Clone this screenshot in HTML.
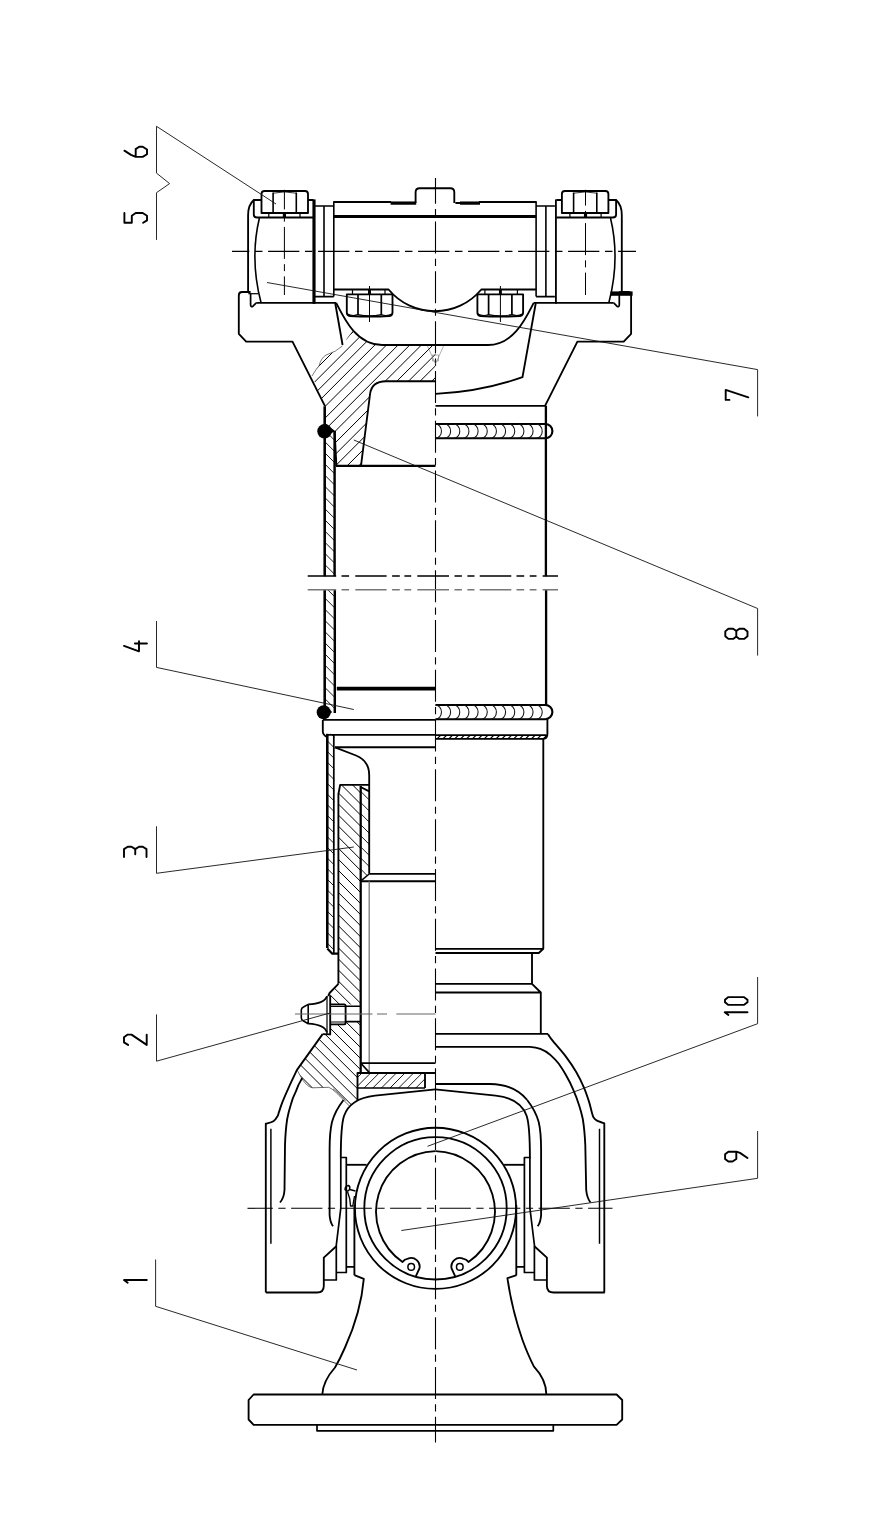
<!DOCTYPE html>
<html><head><meta charset="utf-8"><title>Propeller shaft</title>
<style>
html,body{margin:0;padding:0;background:#fff;}
body{width:879px;height:1540px;overflow:hidden;font-family:"Liberation Sans",sans-serif;}
svg{display:block}
.k{fill:none;stroke:#000;stroke-width:1.85;stroke-linejoin:round;stroke-linecap:butt}
.t{fill:none;stroke:#000;stroke-width:0.7;stroke-linecap:butt}
.d{fill:none;stroke:#000;stroke-width:1.9;stroke-linejoin:round;stroke-linecap:round}
</style></head><body>
<svg width="879" height="1540" viewBox="0 0 879 1540">
<rect width="879" height="1540" fill="#fff"/>
<defs>
<clipPath id="hy"><path d="M342.4,346 L346.5,339.5 L353.3,330.5 C359,339 368,345 382,345 L435.5,345 L435.5,381.2 L386,381.2 Q371.5,381.2 370,394.4 L361,465.8 L336.4,465.8 L334.6,431 L325,431 L325,406.2 L312,376 Q316,369 319,366 Q321,358 326,355 Q336,352 342.4,346 Z"/></clipPath>
<clipPath id="hw1"><path d="M325,424 L334.5,431 L334.5,576.2 L325,576.2 Z M325,589.5 L334.5,589.5 L334.5,712 L325,712 Z"/></clipPath>
<clipPath id="hs1"><path d="M435.5,735.1 L547,735.1 L546,738.8 L435.5,738.8 Z"/></clipPath>
<clipPath id="hd1"><path d="M327.4,733.8 L334.4,733.8 L334.4,951 L327.4,948 Z"/></clipPath>
<clipPath id="hp1"><path d="M357.5,1073 L425,1073 L425,1088 L357.5,1088 Z"/></clipPath>
<clipPath id="hs3"><path d="M340.2,784.8 L360.6,784.8 L360.6,1004.4 L330.2,1004.4 L330.2,995.6 L329.6,993 L338.4,983.8 L338.4,794 Z M330.2,1024.4 L345.6,1024.4 L345.6,1021.6 L360.6,1021.6 L360.6,1073 L357.5,1073 L357.5,1100 L350,1106.5 L344,1100.6 Q340,1096 335.9,1092.4 Q332,1088.5 328.7,1087.3 L312.3,1087.8 Q309,1087 306.2,1084.2 Q303,1081 301,1077 L297,1069.9 L322.6,1034.1 L330.2,1034.4 Z"/></clipPath>
<clipPath id="hs4"><path d="M360.6,787 L369.2,791.4 L369.2,874 L361.2,880.6 L360.6,880.6 Z"/></clipPath>
</defs>
<path d="M261.5,213 L261.5,194 Q261.5,191 264.5,191 L305,191 Q308,191 308,194 L308,213 Z" class="k" />
<path d="M273.1,192.5 L273.1,213 M296.3,192.5 L296.3,213" class="k" style="stroke-width:1.59" />
<path d="M273.1,193.2 Q284.5,190.6 296.3,193.2" class="t" style="stroke-width:0.8;stroke:#000" />
<path d="M261.5,200 L253.8,200 L253.8,214.5 Q253.8,217.5 257,217.5 L313.5,217.5 M308,200 L313.5,200" class="k" />
<path d="M268.8,213 L268.8,217.5 M300,213 L300,217.5" class="k" style="stroke-width:1.22" />
<path d="M284.4,213 L284.4,217.5" class="k" style="stroke-width:3.17" />
<path d="M253.8,200 Q248.1,205 248.1,215 L248.1,292" class="k" />
<path d="M250.6,293.7 L250.6,305 Q250.8,307.4 253,306.2 L256.2,302.9" class="k" style="stroke-width:1.71" />
<path d="M259.4,218 Q249.6,259 261,302.5" class="k" style="stroke-width:1.59" />
<path d="M314,199.4 L314,303.8" class="k" style="stroke-width:3.17" />
<path d="M256.2,302.9 L336.2,302.9" class="k" />
<path d="M324,206 L324,296.6 M333.8,201.2 L333.8,296.6" class="k" style="stroke-width:1.59" />
<path d="M315,206 L333.8,206 M315,296.6 L333.8,296.6" class="k" style="stroke-width:1.59" />
<path d="M284.4,189.8 L284.4,295" class="t" style="stroke-width:1.0;stroke:#000" stroke-dasharray="32 5.25 7 5.25" stroke-dashoffset="12.4"/>
<path d="M250.6,292 L242,292 Q238.8,292 238.8,295.5 L238.8,333.8 L246.2,341.6 L292.5,341.6 L325,406.2" class="k" />
<path d="M346.8,294.3 L346.8,312.5 Q346.8,315.5 350,316 Q369.5,317.2 389.5,316 Q392.5,315.5 392.5,312.5 L392.5,294.3 Z" class="k" />
<path d="M358,294.3 L358,315 M381.3,294.3 L381.3,315" class="k" style="stroke-width:1.71" />
<path d="M347.5,314 Q352.5,316.6 358,314.6 Q369.5,317 381.3,314.6 Q387,316.6 392,314" class="k" style="stroke-width:1.10" />
<path d="M352.5,289.5 L352.5,294.3 M385,289.5 L385,294.3" class="k" style="stroke-width:1.22" />
<path d="M369.5,289.5 L369.5,294.3" class="k" style="stroke-width:2.93" />
<path d="M369.5,286 L369.5,322" class="t" style="stroke-width:1.0;stroke:#000" />
<path d="M333.8,289.5 L388.6,289.5 A60,60 0 0 0 435.5,311.2" class="k" />
<path d="M336.2,302.9 C344,318 356,345 382,345 L435.5,345" class="k" />
<path d="M333.8,202 L391,202 M415.6,203 L415.6,192.2 Q415.6,188.2 419.6,188.2 L435.5,188.2" class="k" />
<path d="M333.8,216.5 L435.5,216.5" class="k" style="stroke-width:3.17" />
<g transform="translate(869.9,0) scale(-1,1)">
<path d="M261.5,213 L261.5,194 Q261.5,191 264.5,191 L305,191 Q308,191 308,194 L308,213 Z" class="k" />
<path d="M273.1,192.5 L273.1,213 M296.3,192.5 L296.3,213" class="k" style="stroke-width:1.59" />
<path d="M273.1,193.2 Q284.5,190.6 296.3,193.2" class="t" style="stroke-width:0.8;stroke:#000" />
<path d="M261.5,200 L253.8,200 L253.8,214.5 Q253.8,217.5 257,217.5 L313.5,217.5 M308,200 L313.5,200" class="k" />
<path d="M268.8,213 L268.8,217.5 M300,213 L300,217.5" class="k" style="stroke-width:1.22" />
<path d="M284.4,213 L284.4,217.5" class="k" style="stroke-width:3.17" />
<path d="M253.8,200 Q248.1,205 248.1,215 L248.1,292" class="k" />
<path d="M250.6,293.7 L250.6,305 Q250.8,307.4 253,306.2 L256.2,302.9" class="k" style="stroke-width:1.71" />
<path d="M259.4,218 Q249.6,259 261,302.5" class="k" style="stroke-width:1.59" />
<path d="M314,199.4 L314,303.8" class="k" />
<path d="M256.2,302.9 L336.2,302.9" class="k" />
<path d="M324,206 L324,296.6 M333.8,201.2 L333.8,296.6" class="k" style="stroke-width:1.59" />
<path d="M315,206 L333.8,206 M315,296.6 L333.8,296.6" class="k" style="stroke-width:1.59" />
<path d="M284.4,189.8 L284.4,295" class="t" style="stroke-width:1.0;stroke:#000" stroke-dasharray="32 5.25 7 5.25" stroke-dashoffset="16.2"/>
<path d="M250.6,292 L242,292 Q238.8,292 238.8,295.5 L238.8,333.8 L246.2,341.6 L292.5,341.6 L325,406.2" class="k" />
<path d="M346.8,294.3 L346.8,312.5 Q346.8,315.5 350,316 Q369.5,317.2 389.5,316 Q392.5,315.5 392.5,312.5 L392.5,294.3 Z" class="k" />
<path d="M358,294.3 L358,315 M381.3,294.3 L381.3,315" class="k" style="stroke-width:1.71" />
<path d="M347.5,314 Q352.5,316.6 358,314.6 Q369.5,317 381.3,314.6 Q387,316.6 392,314" class="k" style="stroke-width:1.10" />
<path d="M352.5,289.5 L352.5,294.3 M385,289.5 L385,294.3" class="k" style="stroke-width:1.22" />
<path d="M369.5,289.5 L369.5,294.3" class="k" style="stroke-width:2.93" />
<path d="M369.5,286 L369.5,322" class="t" style="stroke-width:1.0;stroke:#000" />
<path d="M333.8,289.5 L388.6,289.5 A60,60 0 0 0 435.5,311.2" class="k" />
<path d="M336.2,302.9 C344,318 356,345 382,345 L435.5,345" class="k" />
<path d="M333.8,202 L391,202 M415.6,203 L415.6,192.2 Q415.6,188.2 419.6,188.2 L435.5,188.2" class="k" />
<path d="M333.8,216.5 L435.5,216.5" class="k" style="stroke-width:3.17" />
</g>
<path d="M390.6,203.1 L416.2,203.1" class="k" style="stroke-width:3.29" />
<path d="M455.4,203 L460,203 M460,203.1 L480,203.1" class="k" />
<path d="M460,203.1 L480,203.1" class="k" style="stroke-width:3.29" />
<path d="M610.5,293.6 L632.6,293.6" class="k" style="stroke-width:4.39" />
<path d="M248.3,293.7 L258.4,293.7" class="k" style="stroke-width:1.22" />
<path d="M335.2,303 L342.6,345" class="k" />
<path d="M535.8,303 L522.5,377.2 Q480,392 435.5,393.8" class="k" />
<path d="M545.9,405.8 L545.9,576.2 M546.1,589.5 L546.1,705" class="k" style="stroke-width:2.32" />
<path d="M435.5,405.8 L546,405.8" class="k" />
<path d="M232,251.3 L636,251.3" class="t" style="stroke-width:1.2;stroke:#000" stroke-dasharray="31.25 5.6 7.5 5.65" stroke-dashoffset="13.9"/>
<path d="M435.5,178.1 L435.5,1442.5" class="t" style="stroke-width:1.1;stroke:#000" stroke-dasharray="32 5.3 7.2 5.3" stroke-dashoffset="6.35"/>
<path d="M121.97,470.00L291.97,300.00M133.60,470.00L303.60,300.00M145.23,470.00L315.23,300.00M156.86,470.00L326.86,300.00M168.49,470.00L338.49,300.00M180.12,470.00L350.12,300.00M191.75,470.00L361.75,300.00M203.38,470.00L373.38,300.00M215.01,470.00L385.01,300.00M226.64,470.00L396.64,300.00M238.27,470.00L408.27,300.00M249.90,470.00L419.90,300.00M261.53,470.00L431.53,300.00M273.16,470.00L443.16,300.00M284.79,470.00L454.79,300.00M296.42,470.00L466.42,300.00M308.05,470.00L478.05,300.00M319.68,470.00L489.68,300.00M331.31,470.00L501.31,300.00M342.94,470.00L512.94,300.00M354.57,470.00L524.57,300.00M366.20,470.00L536.20,300.00M377.83,470.00L547.83,300.00M389.46,470.00L559.46,300.00M401.09,470.00L571.09,300.00M412.72,470.00L582.72,300.00M424.35,470.00L594.35,300.00M435.98,470.00L605.98,300.00M447.61,470.00L617.61,300.00" class="t" style="stroke-width:1.0;stroke:#000" clip-path="url(#hy)"/>
<path d="M342.4,346 Q336,352 326,355 Q321,358 319,366 Q316,369 312,376 M353.3,330.5 L346.5,339.5" class="t" style="stroke-width:0.7;stroke:#444" />
<path d="M435.5,381.2 L386,381.2 Q371.5,381.2 370,394.4 L361,465.8" class="k" />
<path d="M336,465.9 L435.5,465.9" class="k" style="stroke-width:2.07" />
<path d="M334.6,431 L336.4,465.9" class="k" />
<path d="M427.5,346 L435.5,364 L443.5,346 M432.5,355 L432.5,361 L438.5,361 L438.5,355 Z" class="t" style="stroke-width:0.6;stroke:#777" />
<path d="M324.7,406.2 L324.7,576.2 M324.7,589.5 L324.7,712" class="k" style="stroke-width:2.56" />
<path d="M334.6,431 L334.6,576.2 M334.8,589.5 L334.8,713" class="k" style="stroke-width:2.44" />
<path d="M326,424.5 L334.6,431.5" class="k" style="stroke-width:1.22" />
<path d="M26.90,423.00L316.90,713.00M38.07,423.00L328.07,713.00M49.24,423.00L339.24,713.00M60.41,423.00L350.41,713.00M71.58,423.00L361.58,713.00M82.75,423.00L372.75,713.00M93.92,423.00L383.92,713.00M105.09,423.00L395.09,713.00M116.26,423.00L406.26,713.00M127.43,423.00L417.43,713.00M138.60,423.00L428.60,713.00M149.77,423.00L439.77,713.00M160.94,423.00L450.94,713.00M172.11,423.00L462.11,713.00M183.28,423.00L473.28,713.00M194.45,423.00L484.45,713.00M205.62,423.00L495.62,713.00M216.79,423.00L506.79,713.00M227.96,423.00L517.96,713.00M239.13,423.00L529.13,713.00M250.30,423.00L540.30,713.00M261.47,423.00L551.47,713.00M272.64,423.00L562.64,713.00M283.81,423.00L573.81,713.00M294.98,423.00L584.98,713.00M306.15,423.00L596.15,713.00M317.32,423.00L607.32,713.00M328.49,423.00L618.49,713.00M339.66,423.00L629.66,713.00" class="t" style="stroke-width:0.9;stroke:#000" clip-path="url(#hw1)"/>
<circle cx="324.5" cy="431.3" r="7.2" fill="#000"/>
<circle cx="323.7" cy="712.3" r="7.0" fill="#000"/>
<path d="M325,424.3 L334.2,431.2 L325,438.3 Z" fill="#000"/>
<path d="M324,705.3 L332.2,712 L324,719.3 Z" fill="#000"/>
<path d="M435.5,424 L545.25,424 A7.150000000000006,7.150000000000006 0 0 1 545.25,438.3 L435.5,438.3" class="k" style="stroke-width:2.13" />
<path d="M435.46,424 A6.0,7.15 0 0 1 435.46,438.3M444.62,424 A6.0,7.15 0 0 1 444.62,438.3M453.78,424 A6.0,7.15 0 0 1 453.78,438.3M462.94,424 A6.0,7.15 0 0 1 462.94,438.3M472.10,424 A6.0,7.15 0 0 1 472.10,438.3M481.26,424 A6.0,7.15 0 0 1 481.26,438.3M490.42,424 A6.0,7.15 0 0 1 490.42,438.3M499.58,424 A6.0,7.15 0 0 1 499.58,438.3M508.74,424 A6.0,7.15 0 0 1 508.74,438.3M517.90,424 A6.0,7.15 0 0 1 517.90,438.3M527.06,424 A6.0,7.15 0 0 1 527.06,438.3M536.22,424 A6.0,7.15 0 0 1 536.22,438.3" class="t" style="stroke-width:1.05;stroke:#111" />
<path d="M435.5,705 L545.30,705 A7.100000000000023,7.100000000000023 0 0 1 545.30,719.2 L435.5,719.2" class="k" style="stroke-width:2.13" />
<path d="M435.46,705 A6.0,7.10 0 0 1 435.46,719.2M444.62,705 A6.0,7.10 0 0 1 444.62,719.2M453.78,705 A6.0,7.10 0 0 1 453.78,719.2M462.94,705 A6.0,7.10 0 0 1 462.94,719.2M472.10,705 A6.0,7.10 0 0 1 472.10,719.2M481.26,705 A6.0,7.10 0 0 1 481.26,719.2M490.42,705 A6.0,7.10 0 0 1 490.42,719.2M499.58,705 A6.0,7.10 0 0 1 499.58,719.2M508.74,705 A6.0,7.10 0 0 1 508.74,719.2M517.90,705 A6.0,7.10 0 0 1 517.90,719.2M527.06,705 A6.0,7.10 0 0 1 527.06,719.2M536.22,705 A6.0,7.10 0 0 1 536.22,719.2" class="t" style="stroke-width:1.05;stroke:#111" />
<path d="M307.7,576 L336.2,576M341.5,576 L349.1,576M355.3,576 L386.6,576M392.1,576 L399.8,576M404.4,576 L411.2,576M417.3,576 L449,576M454.5,576 L461.9,576M467.4,576 L474.5,576M479.7,576 L511.3,576M516.5,576 L524.2,576M529.7,576 L536.5,576M542.6,576 L558,576" class="t" style="stroke-width:1.5;stroke:#000" />
<path d="M307.7,589.8 L336.2,589.8M341.5,589.8 L349.1,589.8M355.3,589.8 L386.6,589.8M392.1,589.8 L399.8,589.8M404.4,589.8 L411.2,589.8M417.3,589.8 L449,589.8M454.5,589.8 L461.9,589.8M467.4,589.8 L474.5,589.8M479.7,589.8 L511.3,589.8M516.5,589.8 L524.2,589.8M529.7,589.8 L536.5,589.8M542.6,589.8 L558,589.8" class="t" style="stroke-width:1.4;stroke:#777" />
<path d="M336.8,688.7 L435.5,688.7" class="k" style="stroke-width:3.66" />
<path d="M322.8,719.9 L435.5,719.9" class="k" />
<path d="M322.8,719.9 L322.8,731.5 Q323,735 326.8,736.8 M327,734.8 L435.5,734.8" class="k" />
<path d="M335,747.2 L435.5,747.2" class="k" />
<path d="M547.4,719.2 L547.4,733.8 Q547.4,738.8 543.5,738.8 L435.5,738.8" class="k" />
<path d="M435.5,735.1 L546.5,735.1" class="k" />
<path d="M431.00,739.00L435.00,735.00M436.90,739.00L440.90,735.00M442.80,739.00L446.80,735.00M448.70,739.00L452.70,735.00M454.60,739.00L458.60,735.00M460.50,739.00L464.50,735.00M466.40,739.00L470.40,735.00M472.30,739.00L476.30,735.00M478.20,739.00L482.20,735.00M484.10,739.00L488.10,735.00M490.00,739.00L494.00,735.00M495.90,739.00L499.90,735.00M501.80,739.00L505.80,735.00M507.70,739.00L511.70,735.00M513.60,739.00L517.60,735.00M519.50,739.00L523.50,735.00M525.40,739.00L529.40,735.00M531.30,739.00L535.30,735.00M537.20,739.00L541.20,735.00M543.10,739.00L547.10,735.00M549.00,739.00L553.00,735.00" class="t" style="stroke-width:1.1;stroke:#000" clip-path="url(#hs1)"/>
<path d="M543.3,738.9 L543.3,948.8 M435.5,948.8 L543.3,948.8 L538.8,953 L435.5,953" class="k" />
<path d="M532,953 L532,983.8 M435.5,983.8 L532,983.8 L540.8,992.5 L435.5,992.5 M540.8,992.5 L540.8,1033.8" class="k" />
<path d="M435.5,1033.8 L548,1033.8" class="k" />
<path d="M327.3,733.8 L327.3,948" class="k" style="stroke-width:2.56" />
<path d="M327.3,948.5 L332.3,953.7 L339,953.7" class="k" style="stroke-width:2.20" />
<path d="M333.8,734.8 L333.8,953.6" class="k" style="stroke-width:1.71" />
<path d="M95.80,733.00L315.80,953.00M106.45,733.00L326.45,953.00M117.10,733.00L337.10,953.00M127.75,733.00L347.75,953.00M138.40,733.00L358.40,953.00M149.05,733.00L369.05,953.00M159.70,733.00L379.70,953.00M170.35,733.00L390.35,953.00M181.00,733.00L401.00,953.00M191.65,733.00L411.65,953.00M202.30,733.00L422.30,953.00M212.95,733.00L432.95,953.00M223.60,733.00L443.60,953.00M234.25,733.00L454.25,953.00M244.90,733.00L464.90,953.00M255.55,733.00L475.55,953.00M266.20,733.00L486.20,953.00M276.85,733.00L496.85,953.00M287.50,733.00L507.50,953.00M298.15,733.00L518.15,953.00M308.80,733.00L528.80,953.00M319.45,733.00L539.45,953.00M330.10,733.00L550.10,953.00M340.75,733.00L560.75,953.00" class="t" style="stroke-width:0.9;stroke:#000" clip-path="url(#hd1)"/>
<path d="M335,747.3 L356,755.5 Q369.2,761 369.2,775 L369.2,873.8" class="k" />
<path d="M338.4,983.8 L338.4,794 L340.2,784.8 L369.2,784.8" class="k" />
<path d="M360.7,786 L360.7,1072.6" class="k" style="stroke-width:2.26" />
<path d="M360.6,787 L369.2,791.4" class="k" />
<path d="M369.5,873.8 L361.2,880.6" class="k" style="stroke-width:1.46" />
<path d="M369.5,873.8 L435.5,873.8 M361.2,881.2 L435.5,881.2" class="k" />
<path d="M369.2,881.2 L369.2,1072" class="t" style="stroke-width:1.3;stroke:#777" />
<path d="M338.4,983.8 L329.6,993 L328.2,996 M330.2,995.6 L330.2,1034.4 L322.6,1034.1" class="k" />
<path d="M327,996 L327,1034" class="k" style="stroke-width:1.22" />
<path d="M327,996.2 Q324.5,1003.5 308.2,1004.4 M327,1032.5 Q324.5,1024.5 308.2,1023.7" class="k" />
<path d="M308.2,1004.4 L303.5,1007 Q301.3,1008 301.3,1010 L301.3,1018 Q301.3,1020 303.5,1021 L308.2,1023.7 M308.2,1004.4 L308.2,1023.7" class="k" style="stroke-width:1.59" />
<path d="M330.2,1004.4 L344,1004.4 Q345.6,1004.4 345.6,1006 L345.6,1022.8 Q345.6,1024.4 344,1024.4 L330.2,1024.4" class="k" />
<path d="M330.2,1006.4 L345.6,1006.4 M330.2,1022 L345.6,1022" class="k" style="stroke-width:1.22" />
<path d="M345.6,1006.3 L360.6,1006.3 M345.6,1021.6 L360.6,1021.6" class="k" style="stroke-width:1.59" />
<path d="M295,1014 L372.5,1014 M377,1014 L387,1014 M396.3,1014 L435.5,1014" class="t" style="stroke-width:1.1;stroke:#666" />
<path d="M361.2,1063.1 L435.5,1063.1" class="k" />
<path d="M361.1,1063.5 L369.6,1072.8" class="k" style="stroke-width:1.71" />
<path d="M357.5,1100 L357.5,1073 L435.5,1073 M425,1073 L425,1088" class="k" />
<path d="M357.5,1088 L425,1088" class="k" style="stroke-width:1.71" />
<path d="M337.40,1089.00L354.40,1072.00M346.00,1089.00L363.00,1072.00M354.60,1089.00L371.60,1072.00M363.20,1089.00L380.20,1072.00M371.80,1089.00L388.80,1072.00M380.40,1089.00L397.40,1072.00M389.00,1089.00L406.00,1072.00M397.60,1089.00L414.60,1072.00M406.20,1089.00L423.20,1072.00M414.80,1089.00L431.80,1072.00M423.40,1089.00L440.40,1072.00M432.00,1089.00L449.00,1072.00" class="t" style="stroke-width:0.9;stroke:#000" clip-path="url(#hp1)"/>
<path d="M-35.81,784.00L288.19,1108.00M-24.74,784.00L299.26,1108.00M-13.67,784.00L310.33,1108.00M-2.60,784.00L321.40,1108.00M8.47,784.00L332.47,1108.00M19.54,784.00L343.54,1108.00M30.61,784.00L354.61,1108.00M41.68,784.00L365.68,1108.00M52.75,784.00L376.75,1108.00M63.82,784.00L387.82,1108.00M74.89,784.00L398.89,1108.00M85.96,784.00L409.96,1108.00M97.03,784.00L421.03,1108.00M108.10,784.00L432.10,1108.00M119.17,784.00L443.17,1108.00M130.24,784.00L454.24,1108.00M141.31,784.00L465.31,1108.00M152.38,784.00L476.38,1108.00M163.45,784.00L487.45,1108.00M174.52,784.00L498.52,1108.00M185.59,784.00L509.59,1108.00M196.66,784.00L520.66,1108.00M207.73,784.00L531.73,1108.00M218.80,784.00L542.80,1108.00M229.87,784.00L553.87,1108.00M240.94,784.00L564.94,1108.00M252.01,784.00L576.01,1108.00M263.08,784.00L587.08,1108.00M274.15,784.00L598.15,1108.00M285.22,784.00L609.22,1108.00M296.29,784.00L620.29,1108.00M307.36,784.00L631.36,1108.00M318.43,784.00L642.43,1108.00M329.50,784.00L653.50,1108.00M340.57,784.00L664.57,1108.00M351.64,784.00L675.64,1108.00M362.71,784.00L686.71,1108.00" class="t" style="stroke-width:1.0;stroke:#000" clip-path="url(#hs3)"/>
<path d="M255.40,786.00L350.40,881.00M266.50,786.00L361.50,881.00M277.60,786.00L372.60,881.00M288.70,786.00L383.70,881.00M299.80,786.00L394.80,881.00M310.90,786.00L405.90,881.00M322.00,786.00L417.00,881.00M333.10,786.00L428.10,881.00M344.20,786.00L439.20,881.00M355.30,786.00L450.30,881.00M366.40,786.00L461.40,881.00M377.50,786.00L472.50,881.00" class="t" style="stroke-width:0.9;stroke:#000" clip-path="url(#hs4)"/>
<path d="M297,1069.9 L301,1077 Q303,1081 306.2,1084.2 Q309,1087 312.3,1087.8 L328.7,1087.3 Q332,1088.5 335.9,1092.4 Q340,1096 344,1100.6 L350,1106.5 M333,1088.8 Q338,1092.5 345.5,1100.5" class="t" style="stroke-width:0.7;stroke:#333" />
<path d="M265.9,1292.5 L317,1292.5 Q323.8,1292.5 323.8,1286 L323.8,1257.6 L336.3,1246.2" class="k" />
<path d="M343.5,1100 Q335,1111 332,1122 Q329.6,1132 329.6,1150 L329.6,1215 Q330,1222 333,1226.3" class="k" />
<path d="M435.5,1089.4 L375,1095.6 Q350,1098.5 344,1116 Q340.8,1126 340.8,1157.5" class="k" />
<path d="M340,1157.5 L346.3,1157.5 L346.3,1272.5 L336.3,1272.5" class="k" style="stroke-width:1.71" />
<path d="M340.8,1157.5 L340.8,1208 L336.3,1245 L336.3,1280 L323.8,1280" class="k" style="stroke-width:1.71" />
<path d="M346.3,1164.8 L366.6,1164.8" class="k" />
<path d="M354.4,1205 L354.4,1275.2 M346.3,1266.8 L354.4,1266.8" class="k" />
<g transform="translate(870.7,0) scale(-1,1)">
<path d="M265.9,1292.5 L317,1292.5 Q323.8,1292.5 323.8,1286 L323.8,1257.6 L336.3,1246.2" class="k" />
<path d="M343.5,1100 Q335,1111 332,1122 Q329.6,1132 329.6,1150 L329.6,1215 Q330,1222 333,1226.3" class="k" />
<path d="M435.5,1089.4 L375,1095.6 Q350,1098.5 344,1116 Q340.8,1126 340.8,1157.5" class="k" />
<path d="M340,1157.5 L346.3,1157.5 L346.3,1272.5 L336.3,1272.5" class="k" style="stroke-width:1.71" />
<path d="M340.8,1157.5 L340.8,1208 L336.3,1245 L336.3,1280 L323.8,1280" class="k" style="stroke-width:1.71" />
<path d="M346.3,1164.8 L366.6,1164.8" class="k" />
<path d="M354.4,1205 L354.4,1275.2 M346.3,1266.8 L354.4,1266.8" class="k" />
</g>
<path d="M322.6,1034.1 L297,1069.9L297.00,1069.90 C295.63,1072.80 291.20,1082.02 288.80,1087.30 C286.40,1092.58 284.23,1097.50 282.60,1101.60 C280.97,1105.70 279.83,1109.50 279.00,1111.90 C278.17,1114.30 278.53,1114.43 277.60,1116.00 C276.67,1117.57 275.37,1120.02 273.40,1121.30 C271.43,1122.58 267.07,1123.30 265.80,1123.70 L265.8,1292.5" class="k" />
<path d="M548,1034.1L548.00,1034.10 C548.77,1035.20 549.62,1036.95 552.60,1040.70 C555.58,1044.45 561.97,1051.38 565.90,1056.60 C569.83,1061.82 573.21,1066.88 576.20,1072.00 C579.19,1077.12 581.72,1082.37 583.85,1087.30 C585.98,1092.23 587.64,1097.33 589.00,1101.60 C590.36,1105.87 591.23,1110.25 592.00,1112.90 C592.77,1115.55 592.83,1116.25 593.60,1117.50 C594.37,1118.75 594.82,1119.43 596.60,1120.40 C598.38,1121.37 603.02,1122.82 604.30,1123.30 L604.3,1292.5" class="k" />
<path d="M270.9,1128.8 L270.9,1243.8 M599.5,1128.8 L599.5,1243.8" class="k" style="stroke-width:1.46" />
<path d="M302.1,1078.1 Q298,1085 295.9,1091.4 Q292.5,1098 290.8,1104.7 Q288.5,1112 287.2,1119 Q285.5,1130 285,1145 L284.5,1190 Q284,1198 280,1202.5" class="k" />
<path d="M435.5,1046.9 L530,1046.9 Q536,1047.2 540.35,1048.9 Q546,1051 550.6,1055.1 Q555,1059 558.8,1063.8 Q562.5,1069 565.9,1075 Q570,1082 573.1,1089.4 Q576.5,1097 579.25,1105.7 Q581.3,1112 582.8,1119 Q584.6,1130 585.3,1145 L586.2,1190 Q587,1198 590.5,1202.5" class="k" />
<circle cx="435.5" cy="1208.3" r="80.6" class="k"/>
<circle cx="435.5" cy="1208.3" r="71.2" class="k"/>
<path d="M435.5,1151.1 A60.7,60.7 0 0 0 402.5,1261.9 Q404.5,1259 408,1258.6 A8.5,8.5 0 0 1 419.4,1268.5 L415.8,1276.3" class="k" />
<circle cx="411.2" cy="1266.9" r="3.3" class="k" style="stroke-width:1.5"/>
<g transform="translate(871.0,0) scale(-1,1)">
<path d="M435.5,1151.1 A60.7,60.7 0 0 0 402.5,1261.9 Q404.5,1259 408,1258.6 A8.5,8.5 0 0 1 419.4,1268.5 L415.8,1276.3" class="k" />
<circle cx="411.2" cy="1266.9" r="3.3" class="k" style="stroke-width:1.5"/>
</g>
<path d="M435.5,1084 L490,1084 Q514,1084.2 527.2,1100" class="k" />
<path d="M345,1189.5 Q345,1186 348.5,1185.5 Q350.5,1186.5 349.5,1189.5 Q347.5,1192.5 345,1189.5 Z" class="k" style="stroke-width:1.46" />
<path d="M347.5,1191.5 Q350.5,1199 350.5,1206 L352.8,1206 L354.5,1196 M349.8,1189.5 L355.5,1191" class="k" style="stroke-width:1.34" />
<path d="M354.4,1275.2 L363.8,1278.8 Q361,1312 345,1347.5 Q340,1359 335,1367.5 Q323,1381 322.3,1394.5" class="k" />
<path d="M516.6,1275.2 L507.4,1278.2 Q512,1310 522.5,1340 Q528,1355 533.8,1366.3 Q546.5,1380 546.3,1394.5" class="k" />
<path d="M253.6,1394.5 L616.6,1394.5 L622.2,1400 L622.2,1419.5 L616.6,1424.8 L253.6,1424.8 L248.6,1419.5 L248.6,1400 Z" class="k" />
<path d="M317,1425 L317,1430.8 L553.3,1430.8 L553.3,1425" class="k" style="stroke-width:1.71" />
<path d="M247.5,1208.3 L612.5,1208.3" class="t" style="stroke-width:1.1;stroke:#000" stroke-dasharray="31.25 5.5 7.25 5.5" stroke-dashoffset="5.9"/>
<path d="M6.25,-22.6 L2,-16 L0,-11.3 L0,-4.3 L2.7,0 L7.4,0 L10.2,-4.3 L10.2,-7.8 L7.8,-11.3 L0,-11.3" class="d" transform="translate(147.0,156.9) rotate(-90)"/>
<path d="M9.8,-22.6 L0,-22.6 L0,-15.2 L7.1,-15.2 L9.8,-11.3 L9.8,-4.3 L7.1,0 L2.4,0 L0,-3.9" class="d" transform="translate(147.0,222.8) rotate(-90)"/>
<path d="M276,204 L156.5,126.3 L156.5,173.1 L169.6,183.6 L156.5,192.7 L156.5,239.9" class="t" style="stroke-width:0.9;stroke:#111" />
<path d="M5.4,-22.9 L0,-7.9 L10.1,-7.9 M7.8,-12 L7.8,0" class="d" transform="translate(146.9,651.3) rotate(-90)"/>
<path d="M156.5,621 L156.5,667.4 L353.8,709.5" class="t" style="stroke-width:0.9;stroke:#111" />
<path d="M0,-22.5 L7.9,-22.5 L10.3,-18.75 L10.3,-15 L7.9,-11.25 L2.8,-11.25 M7.9,-11.25 L10.3,-7.5 L10.3,-3.7 L7.9,0 L0,0" class="d" transform="translate(146.5,857.0) rotate(-90)"/>
<path d="M156.5,826.3 L156.5,873.3 L353.8,847" class="t" style="stroke-width:0.9;stroke:#111" />
<path d="M0,-18.6 L2.5,-22.7 L7.6,-22.7 L10.3,-19 L10.3,-15.2 L0,0 L10.3,0" class="d" transform="translate(146.7,1044.9) rotate(-90)"/>
<path d="M156.5,1014.4 L156.5,1061.2 L330,1013" class="t" style="stroke-width:0.9;stroke:#111" />
<path d="M-2.7,-19.1 L0,-22.8 L0,0" class="d" transform="translate(146.8,1280.0) rotate(-90)"/>
<path d="M155.6,1259.5 L155.6,1306.3 L357,1370" class="t" style="stroke-width:0.9;stroke:#111" />
<path d="M0,-18.85 L0,-22.6 L10,-22.6 L2.6,0" class="d" transform="translate(748.3,399.9) rotate(-90)"/>
<path d="M267,282.5 L757.6,369.6 L757.6,416.4" class="t" style="stroke-width:0.9;stroke:#111" />
<path d="M2.7,-22.2 L7.5,-22.2 L10.2,-19.1 L10.2,-14.3 L7.8,-11.2 L10.2,-8.1 L10.2,-3.4 L7.5,0 L2.7,0 L0,-3.4 L0,-8.1 L2.4,-11.2 L0,-14.3 L0,-19.1 Z M2.4,-11.2 L7.8,-11.2" class="d" transform="translate(747.5,638.9) rotate(-90)"/>
<path d="M353.8,440 L757.6,608.5 L757.6,655.6" class="t" style="stroke-width:0.9;stroke:#111" />
<path d="M-2.7,-19.1 L0,-22.8 L0,0" class="d" transform="translate(747.5,1012.2) rotate(-90)"/>
<path d="M0,-19.1 L2.7,-22.5 L5.1,-22.5 L7.8,-19.1 L7.8,-3.7 L5.1,0 L2.7,0 L0,-3.7 Z" class="d" transform="translate(747.5,1004.9) rotate(-90)"/>
<path d="M757.6,977 L757.6,1023.7 L427.5,1146.3" class="t" style="stroke-width:0.9;stroke:#111" />
<path d="M3.5,0 L8.6,-7.5 L9.8,-11.2 L9.8,-19.1 L7.3,-22.4 L2.5,-22.4 L0,-19.1 L0,-15 L2.5,-11.2 L9.8,-11.2" class="d" transform="translate(747.5,1161.5) rotate(-90)"/>
<path d="M757.6,1131 L757.6,1178.3 L401.3,1230.5" class="t" style="stroke-width:0.9;stroke:#111" />
</svg>
</body></html>
